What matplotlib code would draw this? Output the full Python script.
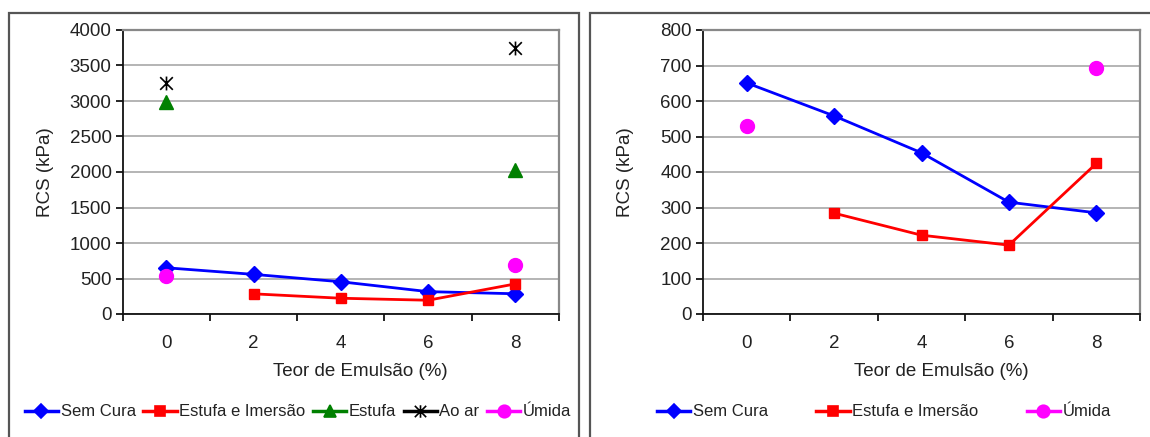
import numpy as np
import matplotlib.pyplot as plt
from matplotlib.path import Path
from matplotlib.patches import Rectangle

plt.rcParams['font.family'] = ['Liberation Sans', 'DejaVu Sans']

# dados
teor = [0, 2, 4, 6, 8]
sem_cura = [651, 558, 454, 315, 285]
estufa_imersao = [np.nan, 284, 222, 194, 424]
teor_extremos = [0, 8]
umida = [530, 694]
estufa = [2980, 2030]
ao_ar = [3260, 3740]

# marcador "estrela" do Excel: X com traço vertical
estrela = Path([(-1, -1), (1, 1), (-1, 1), (1, -1), (0, -1.1), (0, 1.1)],
               [Path.MOVETO, Path.LINETO, Path.MOVETO, Path.LINETO, Path.MOVETO, Path.LINETO])

W, H = 1150, 437
fig = plt.figure(figsize=(W / 100, H / 100), dpi=100)

# molduras dos dois gráficos
for x0, x1 in [(9, 579), (590, 1160)]:
    fig.patches.append(Rectangle((x0 / W, -0.05), (x1 - x0) / W, (H - 13) / H + 0.05,
                                 transform=fig.transFigure, fill=False,
                                 edgecolor='#555555', linewidth=1.6))

FS = 13.5


def montar(ax, ymax, ystep):
    ax.set_xlim(-1, 9)
    ax.set_ylim(0, ymax)
    ax.set_yticks(np.arange(0, ymax + 1, ystep))
    ax.set_xticks([-1, 1, 3, 5, 7, 9])
    ax.set_xticklabels([])
    ax.set_xticks(teor, minor=True)
    ax.set_xticklabels([str(t) for t in teor], minor=True)
    ax.tick_params(axis='x', which='major', length=5, width=1.2, direction='out')
    ax.tick_params(axis='x', which='minor', length=0, pad=15, labelsize=FS, labelcolor='#222222')
    ax.tick_params(axis='y', length=5, width=1.2, direction='out', labelsize=FS,
                   labelcolor='#222222', pad=3)
    ax.yaxis.grid(True, color='#a8a8a8', linewidth=1.2)
    ax.set_axisbelow(True)
    for s in ['top', 'right']:
        ax.spines[s].set_color('#888888')
        ax.spines[s].set_linewidth(1.6)
    for s in ['left', 'bottom']:
        ax.spines[s].set_color('#111111')
        ax.spines[s].set_linewidth(1.3)
    ax.set_ylabel('RCS (kPa)', fontsize=FS, color='#222222')
    ax.yaxis.set_label_coords(-0.158, 0.5)
    ax.set_xlabel('Teor de Emulsão (%)', fontsize=FS, color='#222222')
    ax.xaxis.set_label_coords(0.545, -0.172)


ax1 = fig.add_axes([122.7 / W, (H - 314) / H, 436.3 / W, 284 / H])
ax2 = fig.add_axes([703 / W, (H - 314) / H, 437 / W, 284 / H])

montar(ax1, 4000, 500)
montar(ax2, 800, 100)

for ax in (ax1, ax2):
    ax.plot(teor, sem_cura, color='#0000ff', linewidth=2, marker='D', markersize=8,
            label='Sem Cura', clip_on=False)
    ax.plot(teor, estufa_imersao, color='#ff0000', linewidth=2, marker='s', markersize=7.5,
            label='Estufa e Imersão', clip_on=False)

ax1.plot(teor_extremos, estufa, linestyle='none', color='#008000', marker='^', markersize=10,
         label='Estufa')
ax1.plot(teor_extremos, ao_ar, linestyle='none', color='black', marker=estrela, markersize=10,
         markeredgewidth=1.2, label='Ao ar')
for ax in (ax1, ax2):
    ax.plot(teor_extremos, umida, linestyle='none', color='#ff00ff', marker='o', markersize=10,
            label='Úmida')

# legendas (a linha do marcador aparece na legenda do Excel)
h1 = []
for cor, mk, ms in [('#0000ff', 'D', 7), ('#ff0000', 's', 7), ('#008000', '^', 8),
                    ('black', estrela, 9), ('#ff00ff', 'o', 9)]:
    h1.append(plt.Line2D([], [], color=cor, linewidth=2.5, marker=mk, markersize=ms,
                         markeredgewidth=1.2))
nomes1 = ['Sem Cura', 'Estufa e Imersão', 'Estufa', 'Ao ar', 'Úmida']
fig.legend(h1, nomes1, loc='center', bbox_to_anchor=(298 / W, (H - 412) / H), ncol=5,
           frameon=False, fontsize=12, handlelength=2.0, handletextpad=0.15,
           columnspacing=0.45, borderpad=0, labelcolor='#222222')

h2 = [h1[0], h1[1], h1[4]]
nomes2 = ['Sem Cura', 'Estufa e Imersão', 'Úmida']
fig.legend(h2, nomes2, loc='center', bbox_to_anchor=(884 / W, (H - 412) / H), ncol=3,
           frameon=False, fontsize=12, handlelength=2.0, handletextpad=0.15,
           columnspacing=2.9, borderpad=0, labelcolor='#222222')

fig.savefig('out.png', dpi=100)
